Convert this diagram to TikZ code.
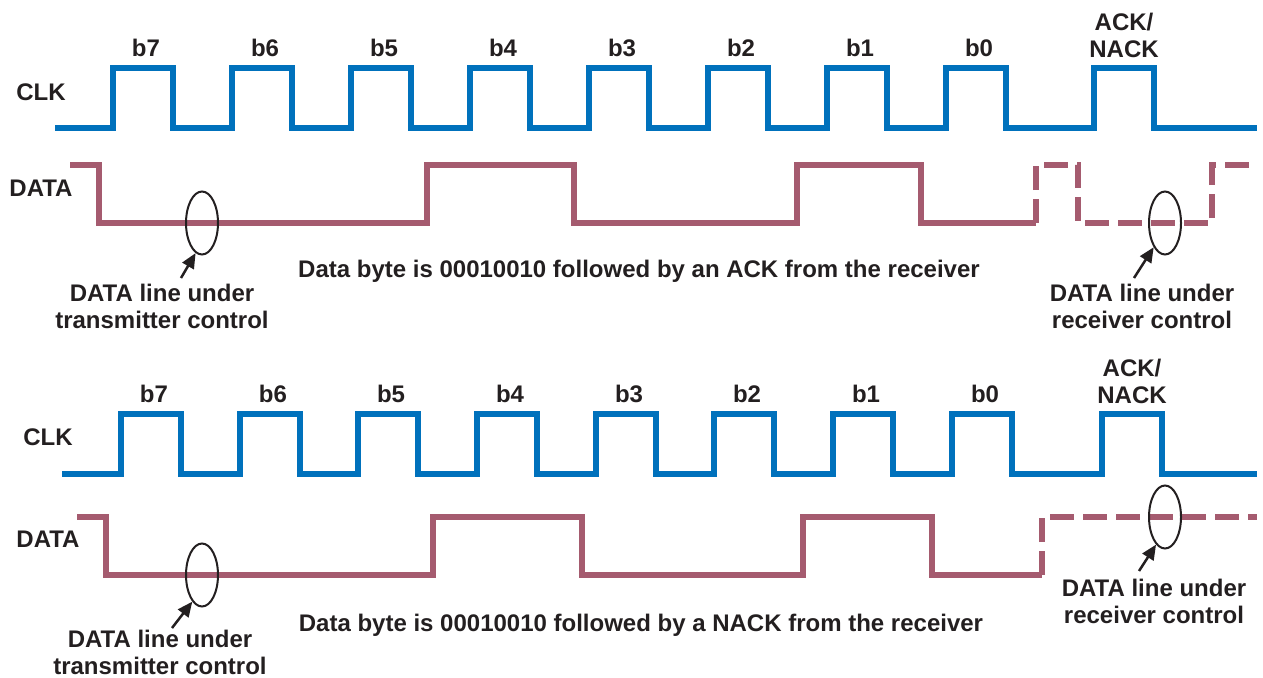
\documentclass[tikz,border=0pt]{standalone}
\usepackage{fontspec}
\setmainfont{Liberation Sans}
\usetikzlibrary{shapes.geometric,arrows.meta}

\definecolor{clkblue}{RGB}{0,113,188}
\definecolor{datamauve}{RGB}{165,91,111}
\definecolor{inkgrey}{RGB}{35,31,32}

\tikzset{
	clkline/.style={line width=6pt, draw=clkblue},
	dataline/.style={line width=6pt, draw=datamauve},
	rxdash/.style={dash pattern=on 24pt off 9pt},
	lbl/.style={inner sep=0pt, text=inkgrey, font=\fontsize{24}{27}\selectfont\bfseries, align=center},
	ring/.style={draw=inkgrey, ellipse, line width=2pt, minimum width=32pt, minimum height=63pt, inner sep=0pt},
	pointer/.style={draw=inkgrey, line width=2.5pt, -{Triangle[length=15pt,width=13pt]}}
}

\begin{document}
\begin{tikzpicture}[x=1pt,y=-1pt]
	\useasboundingbox (0,0) rectangle (1263,677);

	%TOP CLOCK
	\draw[clkline] (55,128) \foreach \r in {113,232,351,470,589,708,827,946,1094}{
		-- (\r,128) -- (\r,68) -- (\r+60,68) -- (\r+60,128)} -- (1257,128);
	\foreach \r/\b in {113/7,232/6,351/5,470/4,589/3,708/2,827/1,946/0}
		\node[lbl] (tb\b) at (\r+33,48) {b\b};
	\node[lbl] (tack) at (1124,35) {ACK/\\NACK};
	\node[lbl] (tclk) at (41,92) {CLK};

	%TOP DATA
	\node[lbl] (tdata) at (41,188) {DATA};
	\draw[dataline] (70,165) -- (99,165) -- (99,223) -- (427,223) -- (427,165) -- (574,165)
		-- (574,223) -- (797,223) -- (797,165) -- (921,165) -- (921,223) -- (1036,223);
	\draw[dataline,rxdash] (1036,223) -- (1036,165) -- (1078,165) -- (1078,223)
		-- (1212,223) -- (1212,165) -- (1257,165);

	%TOP NOTES
	\node[ring] (tring1) at (202,223) {};
	\node[ring] (tring2) at (1165,223) {};
	\coordinate (tptr1) at (181,278);
	\coordinate (tptr2) at (1134,278);
	\draw[pointer] (tptr1) -- (tring1.258);
	\draw[pointer] (tptr2) -- (tring2.245);
	\node[lbl] (tnote1) at (162,306) {DATA line under\\transmitter control};
	\node[lbl] (tnote2) at (1142,306) {DATA line under\\receiver control};
	\node[lbl] (tbyte) at (639,271) {Data byte is 00010010 followed by an ACK from the receiver};

	%BOTTOM CLOCK
	\draw[clkline] (62,474) \foreach \r in {121,240,358,477,596,714,833,952,1102}{
		-- (\r,474) -- (\r,414) -- (\r+60,414) -- (\r+60,474)} -- (1257,474);
	\foreach \r/\b in {121/7,240/6,358/5,477/4,596/3,714/2,833/1,952/0}
		\node[lbl] (bb\b) at (\r+33,394) {b\b};
	\node[lbl] (back) at (1132,381) {ACK/\\NACK};
	\node[lbl] (bclk) at (48,437) {CLK};

	%BOTTOM DATA
	\node[lbl] (bdata) at (48,539) {DATA};
	\draw[dataline] (77,517) -- (106,517) -- (106,575) -- (433,575) -- (433,517) -- (582,517)
		-- (582,575) -- (803,575) -- (803,517) -- (932,517) -- (932,575) -- (1042,575);
	\draw[dataline,rxdash] (1042,575) -- (1042,517) -- (1257,517);

	%BOTTOM NOTES
	\node[ring] (bring1) at (202,575) {};
	\node[ring] (bring2) at (1165,517) {};
	\coordinate (bptr1) at (172,628);
	\coordinate (bptr2) at (1139,571);
	\draw[pointer] (bptr1) -- (bring1.250);
	\draw[pointer] (bptr2) -- (bring2.252);
	\node[lbl] (bnote1) at (160,652) {DATA line under\\transmitter control};
	\node[lbl] (bnote2) at (1154,601) {DATA line under\\receiver control};
	\node[lbl] (bbyte) at (641,625) {Data byte is 00010010 followed by a NACK from the receiver};
\end{tikzpicture}
\end{document}
